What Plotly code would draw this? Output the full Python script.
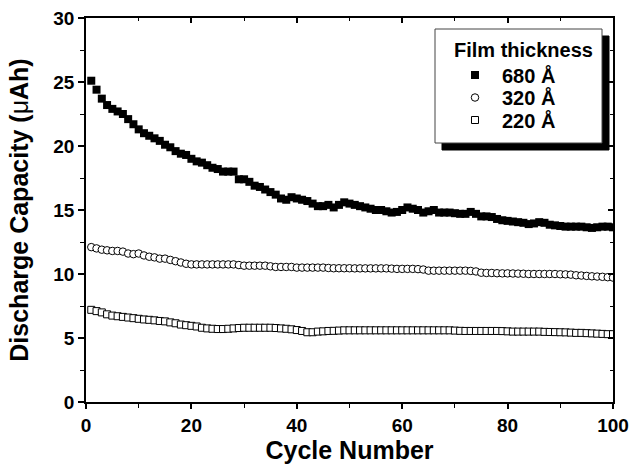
import plotly.graph_objects as go

# Cycle index and discharge capacity (uAh) for three film thicknesses
cycles = list(range(1, 101))

cap_680 = [25.1, 24.4, 23.7, 23.2, 22.9, 22.7, 22.5, 22.1, 21.7, 21.3,
           21.0, 20.8, 20.6, 20.4, 20.1, 19.9, 19.6, 19.4, 19.3, 19.0,
           18.8, 18.7, 18.5, 18.3, 18.2, 18.0, 18.0, 18.0, 17.4, 17.4,
           17.2, 16.9, 16.8, 16.6, 16.4, 16.2, 15.9, 15.8, 16.0, 15.9,
           15.8, 15.7, 15.5, 15.3, 15.3, 15.4, 15.2, 15.4, 15.6, 15.5,
           15.4, 15.3, 15.2, 15.1, 15.0, 15.0, 14.9, 14.8, 14.85, 15.0,
           15.2, 15.1, 15.0, 14.8, 14.9, 15.0, 14.8, 14.8, 14.8, 14.75,
           14.7, 14.7, 14.85, 14.7, 14.5, 14.5, 14.45, 14.3, 14.2, 14.15,
           14.1, 14.05, 14.0, 13.9, 13.95, 14.05, 14.0, 13.85, 13.8, 13.75,
           13.7, 13.7, 13.7, 13.7, 13.65, 13.6, 13.65, 13.7, 13.7, 13.65]

cap_320 = [12.1, 12.0, 11.9, 11.85, 11.8, 11.8, 11.75, 11.6, 11.55, 11.6,
           11.45, 11.35, 11.3, 11.2, 11.2, 11.1, 11.0, 10.9, 10.8, 10.75,
           10.75, 10.75, 10.75, 10.75, 10.75, 10.75, 10.75, 10.75, 10.7, 10.65,
           10.65, 10.65, 10.65, 10.65, 10.6, 10.55, 10.55, 10.55, 10.55, 10.5,
           10.5, 10.5, 10.5, 10.5, 10.5, 10.47, 10.45, 10.45, 10.45, 10.45,
           10.44, 10.44, 10.44, 10.44, 10.44, 10.44, 10.44, 10.42, 10.4, 10.4,
           10.4, 10.4, 10.38, 10.35, 10.26, 10.26, 10.26, 10.26, 10.26, 10.26,
           10.26, 10.26, 10.24, 10.2, 10.1, 10.08, 10.08, 10.06, 10.05, 10.05,
           10.04, 10.03, 10.02, 10.0, 10.0, 10.0, 10.0, 10.0, 10.0, 9.98,
           9.97, 9.95, 9.9, 9.88, 9.85, 9.82, 9.8, 9.78, 9.75, 9.72]

cap_220 = [7.2, 7.1, 7.0, 6.85, 6.75, 6.7, 6.65, 6.6, 6.55, 6.5,
           6.45, 6.42, 6.38, 6.33, 6.3, 6.22, 6.15, 6.05, 6.0, 5.95,
           5.9, 5.8, 5.75, 5.72, 5.7, 5.7, 5.72, 5.75, 5.78, 5.8,
           5.8, 5.8, 5.8, 5.8, 5.8, 5.78, 5.75, 5.72, 5.68, 5.62,
           5.55, 5.45, 5.45, 5.5, 5.52, 5.55, 5.56, 5.58, 5.6, 5.6,
           5.6, 5.6, 5.6, 5.6, 5.6, 5.6, 5.6, 5.6, 5.6, 5.6,
           5.6, 5.6, 5.6, 5.6, 5.6, 5.6, 5.6, 5.6, 5.6, 5.58,
           5.56, 5.55, 5.55, 5.55, 5.55, 5.55, 5.55, 5.55, 5.54, 5.52,
           5.5, 5.5, 5.5, 5.5, 5.5, 5.5, 5.48, 5.47, 5.46, 5.45,
           5.44, 5.42, 5.4, 5.4, 5.38, 5.36, 5.34, 5.32, 5.3, 5.3]

series_names = ["680 Å", "320 Å", "220 Å"]
legend_title = "Film thickness"

FONT = "Liberation Sans, Arial, sans-serif"
W, H = 635, 466
ML, MR, MT, MB = 86, 22, 18, 64
PW, PH = W - ML - MR, H - MT - MB


def px_x(x):
    return (x - ML) / PW


def px_y(y):
    return (H - MB - y) / PH


marker_styles = [
    dict(symbol="square", size=8, color="black", line=dict(color="black", width=0)),
    dict(symbol="circle", size=7.5, color="white", line=dict(color="black", width=1)),
    dict(symbol="square", size=7, color="white", line=dict(color="black", width=1)),
]

fig = go.Figure()
for name, vals, mk in zip(series_names, [cap_680, cap_320, cap_220], marker_styles):
    fig.add_trace(go.Scatter(x=cycles, y=vals, name=name, mode="markers",
                             marker=mk, showlegend=False))

# carrier for the top/right tick axes
fig.add_trace(go.Scatter(x=[], y=[], xaxis="x2", yaxis="y2",
                         showlegend=False, hoverinfo="skip"))

tick_font = dict(family=FONT, size=19, color="black", weight="bold")
title_font = dict(family=FONT, size=25, color="black", weight="bold")
leg_font = dict(family=FONT, size=20, color="black", weight="bold")

fig.update_layout(
    width=W, height=H,
    margin=dict(l=ML, r=MR, t=MT, b=MB),
    paper_bgcolor="white", plot_bgcolor="white",
    showlegend=False,
    xaxis=dict(
        range=[0, 100], tick0=0, dtick=20, automargin=False,
        ticks="outside", ticklen=5, tickwidth=1.5, tickcolor="black",
        minor=dict(dtick=10, ticks="outside", ticklen=4, tickwidth=1.2,
                   tickcolor="black", showgrid=False),
        showline=True, linewidth=1.5, linecolor="black", mirror=True,
        showgrid=False, zeroline=False, tickfont=tick_font,
        title=dict(text="Cycle Number", font=title_font, standoff=3),
    ),
    yaxis=dict(
        range=[0, 30], tick0=0, dtick=5, automargin=False,
        ticks="outside", ticklen=6, tickwidth=1.5, tickcolor="black",
        minor=dict(dtick=2.5, ticks="outside", ticklen=4, tickwidth=1.2,
                   tickcolor="black", showgrid=False),
        showline=True, linewidth=1.5, linecolor="black", mirror=True,
        showgrid=False, zeroline=False, tickfont=tick_font,
        title=dict(text="Discharge Capacity (<span style='font-weight:normal'>μ</span>Ah)",
                   font=title_font, standoff=18),
    ),
    xaxis2=dict(
        overlaying="x", side="top", anchor="y2", range=[0, 100], automargin=False,
        tick0=0, dtick=20, ticks="inside", ticklen=5, tickwidth=1.5,
        tickcolor="black",
        minor=dict(dtick=10, ticks="inside", ticklen=3, tickwidth=1.2,
                   tickcolor="black", showgrid=False),
        showticklabels=False, showline=False, showgrid=False, zeroline=False,
    ),
    yaxis2=dict(
        overlaying="y", side="right", anchor="x2", range=[0, 30], automargin=False,
        tick0=0, dtick=5, ticks="inside", ticklen=5, tickwidth=1.5,
        tickcolor="black",
        minor=dict(dtick=2.5, ticks="inside", ticklen=3, tickwidth=1.2,
                   tickcolor="black", showgrid=False),
        showticklabels=False, showline=False, showgrid=False, zeroline=False,
    ),
)

# legend panel: drop shadow, framed white box, title, keys and labels
box_l, box_t, box_r, box_b = 435, 29, 602, 143
shadow = 7
fig.add_shape(type="rect", xref="paper", yref="paper",
              x0=px_x(box_l + shadow), x1=px_x(box_r + shadow),
              y0=px_y(box_b + shadow), y1=px_y(box_t + shadow),
              fillcolor="black", line=dict(color="black", width=1), layer="above")
fig.add_shape(type="rect", xref="paper", yref="paper",
              x0=px_x(box_l), x1=px_x(box_r), y0=px_y(box_b), y1=px_y(box_t),
              fillcolor="white", line=dict(color="#444", width=1), layer="above")
fig.add_annotation(text=legend_title, xref="paper", yref="paper",
                   x=px_x(452), y=px_y(50), xanchor="left", yanchor="middle",
                   showarrow=False, font=leg_font)

row_y = [75, 97.5, 120]
key_x, text_x = 475, 500
for name, mk, ry in zip(series_names, marker_styles, row_y):
    half = mk["size"] / 2
    lw = mk["line"]["width"]
    shape_type = "circle" if mk["symbol"] == "circle" else "rect"
    fig.add_shape(type=shape_type, xref="paper", yref="paper",
                  xsizemode="pixel", ysizemode="pixel",
                  xanchor=px_x(key_x), yanchor=px_y(ry),
                  x0=-half, x1=half, y0=-half, y1=half,
                  fillcolor=mk["color"],
                  line=dict(color="black", width=lw if lw else 0),
                  layer="above")
    fig.add_annotation(text=name, xref="paper", yref="paper",
                       x=px_x(text_x), y=px_y(ry), xanchor="left", yanchor="middle",
                       showarrow=False, font=leg_font)

fig.write_html("out.html")
